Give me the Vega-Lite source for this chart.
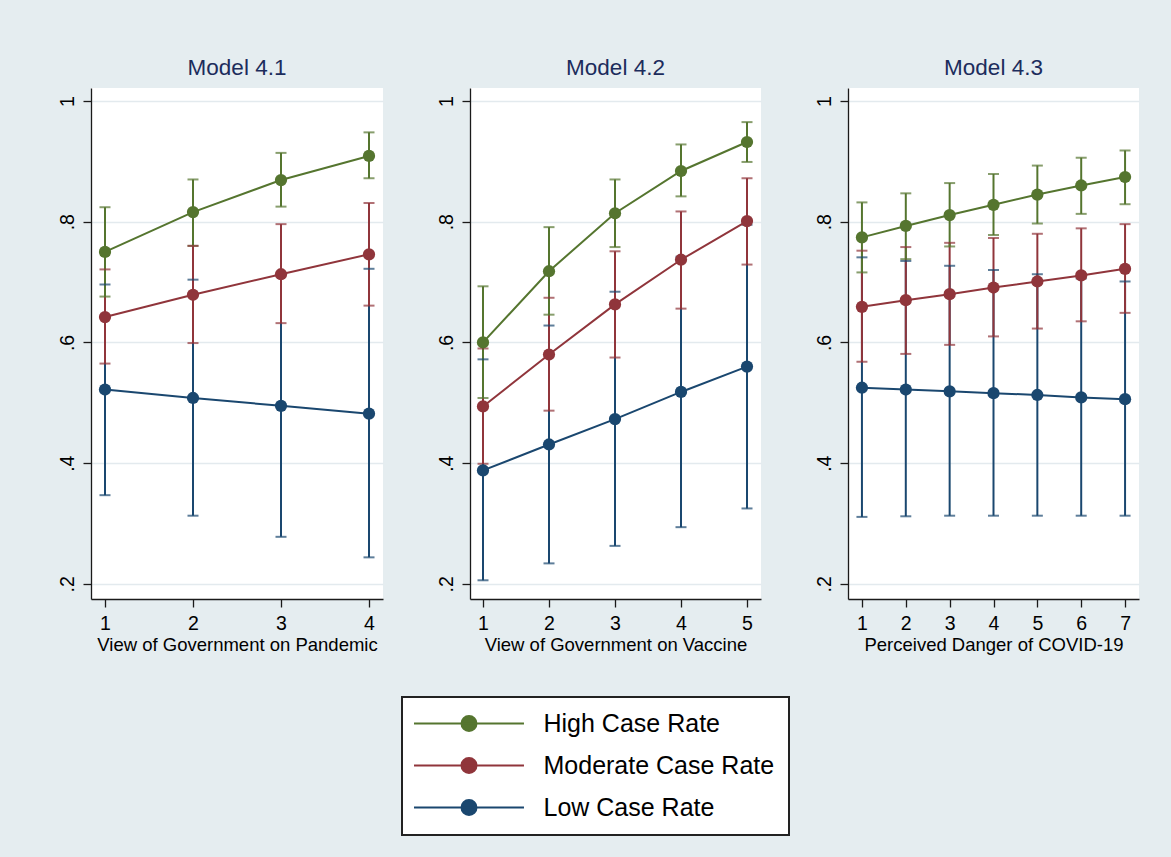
{
  "$schema": "https://vega.github.io/schema/vega-lite/v6.json",
  "autosize": {"type": "none"},
  "padding": {"left": 91, "top": 88, "right": 1080, "bottom": 769},
  "background": "#e5edf0",
  "bounds": "flush",
  "spacing": 87,
  "data": {
    "values": [
      {"panel": "4.1", "x": 1, "series": "Low Case Rate", "y": 0.522, "lo": 0.347, "hi": 0.696},
      {"panel": "4.1", "x": 2, "series": "Low Case Rate", "y": 0.508, "lo": 0.313, "hi": 0.704},
      {"panel": "4.1", "x": 3, "series": "Low Case Rate", "y": 0.495, "lo": 0.278, "hi": 0.712},
      {"panel": "4.1", "x": 4, "series": "Low Case Rate", "y": 0.482, "lo": 0.244, "hi": 0.722},
      {"panel": "4.1", "x": 1, "series": "Moderate Case Rate", "y": 0.642, "lo": 0.565, "hi": 0.721},
      {"panel": "4.1", "x": 2, "series": "Moderate Case Rate", "y": 0.679, "lo": 0.599, "hi": 0.760},
      {"panel": "4.1", "x": 3, "series": "Moderate Case Rate", "y": 0.713, "lo": 0.632, "hi": 0.796},
      {"panel": "4.1", "x": 4, "series": "Moderate Case Rate", "y": 0.746, "lo": 0.661, "hi": 0.831},
      {"panel": "4.1", "x": 1, "series": "High Case Rate", "y": 0.750, "lo": 0.676, "hi": 0.824},
      {"panel": "4.1", "x": 2, "series": "High Case Rate", "y": 0.816, "lo": 0.760, "hi": 0.870},
      {"panel": "4.1", "x": 3, "series": "High Case Rate", "y": 0.869, "lo": 0.825, "hi": 0.914},
      {"panel": "4.1", "x": 4, "series": "High Case Rate", "y": 0.909, "lo": 0.872, "hi": 0.948},

      {"panel": "4.2", "x": 1, "series": "Low Case Rate", "y": 0.388, "lo": 0.206, "hi": 0.572},
      {"panel": "4.2", "x": 2, "series": "Low Case Rate", "y": 0.431, "lo": 0.234, "hi": 0.628},
      {"panel": "4.2", "x": 3, "series": "Low Case Rate", "y": 0.473, "lo": 0.263, "hi": 0.684},
      {"panel": "4.2", "x": 4, "series": "Low Case Rate", "y": 0.518, "lo": 0.294, "hi": 0.742},
      {"panel": "4.2", "x": 5, "series": "Low Case Rate", "y": 0.560, "lo": 0.325, "hi": 0.795},
      {"panel": "4.2", "x": 1, "series": "Moderate Case Rate", "y": 0.494, "lo": 0.399, "hi": 0.590},
      {"panel": "4.2", "x": 2, "series": "Moderate Case Rate", "y": 0.580, "lo": 0.487, "hi": 0.674},
      {"panel": "4.2", "x": 3, "series": "Moderate Case Rate", "y": 0.663, "lo": 0.575, "hi": 0.751},
      {"panel": "4.2", "x": 4, "series": "Moderate Case Rate", "y": 0.737, "lo": 0.656, "hi": 0.817},
      {"panel": "4.2", "x": 5, "series": "Moderate Case Rate", "y": 0.801, "lo": 0.729, "hi": 0.872},
      {"panel": "4.2", "x": 1, "series": "High Case Rate", "y": 0.600, "lo": 0.508, "hi": 0.693},
      {"panel": "4.2", "x": 2, "series": "High Case Rate", "y": 0.718, "lo": 0.646, "hi": 0.791},
      {"panel": "4.2", "x": 3, "series": "High Case Rate", "y": 0.814, "lo": 0.758, "hi": 0.870},
      {"panel": "4.2", "x": 4, "series": "High Case Rate", "y": 0.884, "lo": 0.842, "hi": 0.928},
      {"panel": "4.2", "x": 5, "series": "High Case Rate", "y": 0.932, "lo": 0.899, "hi": 0.965},

      {"panel": "4.3", "x": 1, "series": "Low Case Rate", "y": 0.525, "lo": 0.311, "hi": 0.741},
      {"panel": "4.3", "x": 2, "series": "Low Case Rate", "y": 0.522, "lo": 0.312, "hi": 0.735},
      {"panel": "4.3", "x": 3, "series": "Low Case Rate", "y": 0.519, "lo": 0.313, "hi": 0.727},
      {"panel": "4.3", "x": 4, "series": "Low Case Rate", "y": 0.516, "lo": 0.313, "hi": 0.720},
      {"panel": "4.3", "x": 5, "series": "Low Case Rate", "y": 0.513, "lo": 0.313, "hi": 0.713},
      {"panel": "4.3", "x": 6, "series": "Low Case Rate", "y": 0.509, "lo": 0.313, "hi": 0.706},
      {"panel": "4.3", "x": 7, "series": "Low Case Rate", "y": 0.506, "lo": 0.313, "hi": 0.701},
      {"panel": "4.3", "x": 1, "series": "Moderate Case Rate", "y": 0.659, "lo": 0.568, "hi": 0.752},
      {"panel": "4.3", "x": 2, "series": "Moderate Case Rate", "y": 0.670, "lo": 0.581, "hi": 0.758},
      {"panel": "4.3", "x": 3, "series": "Moderate Case Rate", "y": 0.680, "lo": 0.596, "hi": 0.765},
      {"panel": "4.3", "x": 4, "series": "Moderate Case Rate", "y": 0.691, "lo": 0.610, "hi": 0.773},
      {"panel": "4.3", "x": 5, "series": "Moderate Case Rate", "y": 0.701, "lo": 0.623, "hi": 0.780},
      {"panel": "4.3", "x": 6, "series": "Moderate Case Rate", "y": 0.711, "lo": 0.635, "hi": 0.789},
      {"panel": "4.3", "x": 7, "series": "Moderate Case Rate", "y": 0.722, "lo": 0.649, "hi": 0.796},
      {"panel": "4.3", "x": 1, "series": "High Case Rate", "y": 0.774, "lo": 0.716, "hi": 0.832},
      {"panel": "4.3", "x": 2, "series": "High Case Rate", "y": 0.793, "lo": 0.738, "hi": 0.847},
      {"panel": "4.3", "x": 3, "series": "High Case Rate", "y": 0.811, "lo": 0.759, "hi": 0.864},
      {"panel": "4.3", "x": 4, "series": "High Case Rate", "y": 0.828, "lo": 0.778, "hi": 0.879},
      {"panel": "4.3", "x": 5, "series": "High Case Rate", "y": 0.845, "lo": 0.797, "hi": 0.893},
      {"panel": "4.3", "x": 6, "series": "High Case Rate", "y": 0.860, "lo": 0.813, "hi": 0.906},
      {"panel": "4.3", "x": 7, "series": "High Case Rate", "y": 0.874, "lo": 0.829, "hi": 0.918}
    ]
  },
  "resolve": {
    "scale": {"x": "independent", "y": "independent", "color": "shared"},
    "legend": {"color": "shared"}
  },
  "hconcat": [
    {
      "width": 292, "height": 511,
      "title": {"text": "Model 4.1"},
      "transform": [{"filter": "datum.panel == '4.1'"}],
      "encoding": {
        "x": {"field": "x", "type": "quantitative", "scale": {"domain": [0.841, 4.159], "nice": false, "zero": false},
              "axis": {"values": [1, 2, 3, 4], "format": "d", "grid": false, "title": "View of Government on Pandemic", "labelFlush": false}},
        "color": {"field": "series", "type": "nominal"}
      },
      "layer": [
        {"mark": {"type": "rule", "strokeWidth": 2}, "encoding": {"y": {"field": "lo", "type": "quantitative", "scale": {"domain": [0.175, 1.0215], "nice": false, "zero": false}, "axis": {"values": [0.2, 0.4, 0.6, 0.8, 1], "title": null, "labelAngle": -90, "labelAlign": "center", "labelBaseline": "bottom", "labelPadding": 6, "labelExpr": "datum.value >= 0.99 ? '1' : replace(format(datum.value, '.1f'), '0.', '.')"}}, "y2": {"field": "hi"}}},
        {"mark": {"type": "tick", "orient": "horizontal", "size": 11, "thickness": 2}, "encoding": {"y": {"field": "lo", "type": "quantitative"}}},
        {"mark": {"type": "tick", "orient": "horizontal", "size": 11, "thickness": 2}, "encoding": {"y": {"field": "hi", "type": "quantitative"}}},
        {"mark": {"type": "line", "strokeWidth": 2}, "encoding": {"y": {"field": "y", "type": "quantitative"}}},
        {"mark": {"type": "circle", "size": 150, "opacity": 1}, "encoding": {"y": {"field": "y", "type": "quantitative"}}}
      ]
    },
    {
      "width": 291, "height": 511,
      "title": {"text": "Model 4.2"},
      "transform": [{"filter": "datum.panel == '4.2'"}],
      "encoding": {
        "x": {"field": "x", "type": "quantitative", "scale": {"domain": [0.803, 5.212], "nice": false, "zero": false},
              "axis": {"values": [1, 2, 3, 4, 5], "format": "d", "grid": false, "title": "View of Government on Vaccine", "labelFlush": false}},
        "color": {"field": "series", "type": "nominal"}
      },
      "layer": [
        {"mark": {"type": "rule", "strokeWidth": 2}, "encoding": {"y": {"field": "lo", "type": "quantitative", "scale": {"domain": [0.175, 1.0215], "nice": false, "zero": false}, "axis": {"values": [0.2, 0.4, 0.6, 0.8, 1], "title": null, "labelAngle": -90, "labelAlign": "center", "labelBaseline": "bottom", "labelPadding": 6, "labelExpr": "datum.value >= 0.99 ? '1' : replace(format(datum.value, '.1f'), '0.', '.')"}}, "y2": {"field": "hi"}}},
        {"mark": {"type": "tick", "orient": "horizontal", "size": 11, "thickness": 2}, "encoding": {"y": {"field": "lo", "type": "quantitative"}}},
        {"mark": {"type": "tick", "orient": "horizontal", "size": 11, "thickness": 2}, "encoding": {"y": {"field": "hi", "type": "quantitative"}}},
        {"mark": {"type": "line", "strokeWidth": 2}, "encoding": {"y": {"field": "y", "type": "quantitative"}}},
        {"mark": {"type": "circle", "size": 150, "opacity": 1}, "encoding": {"y": {"field": "y", "type": "quantitative"}}}
      ]
    },
    {
      "width": 291, "height": 511,
      "title": {"text": "Model 4.3"},
      "transform": [{"filter": "datum.panel == '4.3'"}],
      "encoding": {
        "x": {"field": "x", "type": "quantitative", "scale": {"domain": [0.682, 7.318], "nice": false, "zero": false},
              "axis": {"values": [1, 2, 3, 4, 5, 6, 7], "format": "d", "grid": false, "title": "Perceived Danger of COVID-19", "labelFlush": false}},
        "color": {"field": "series", "type": "nominal"}
      },
      "layer": [
        {"mark": {"type": "rule", "strokeWidth": 2}, "encoding": {"y": {"field": "lo", "type": "quantitative", "scale": {"domain": [0.175, 1.0215], "nice": false, "zero": false}, "axis": {"values": [0.2, 0.4, 0.6, 0.8, 1], "title": null, "labelAngle": -90, "labelAlign": "center", "labelBaseline": "bottom", "labelPadding": 6, "labelExpr": "datum.value >= 0.99 ? '1' : replace(format(datum.value, '.1f'), '0.', '.')"}}, "y2": {"field": "hi"}}},
        {"mark": {"type": "tick", "orient": "horizontal", "size": 11, "thickness": 2}, "encoding": {"y": {"field": "lo", "type": "quantitative"}}},
        {"mark": {"type": "tick", "orient": "horizontal", "size": 11, "thickness": 2}, "encoding": {"y": {"field": "hi", "type": "quantitative"}}},
        {"mark": {"type": "line", "strokeWidth": 2}, "encoding": {"y": {"field": "y", "type": "quantitative"}}},
        {"mark": {"type": "circle", "size": 150, "opacity": 1},
         "encoding": {
           "y": {"field": "y", "type": "quantitative"},
           "color": {"field": "series", "type": "nominal",
             "scale": {"domain": ["High Case Rate", "Moderate Case Rate", "Low Case Rate"], "range": ["#55752f", "#90353b", "#1a476f"]},
             "legend": {
               "orient": "none", "legendX": 311, "legendY": 609, "title": null, "direction": "vertical",
               "fillColor": "white", "strokeColor": "#222222", "padding": 14,
               "symbolType": "M-7.33,0L7.33,0M1,0A1,1,0,1,1,-1,0A1,1,0,1,1,1,0Z",
               "symbolSize": 225, "symbolStrokeWidth": 2, "symbolOffset": 40.5, "symbolOpacity": 1,
               "labelOffset": 62, "labelFontSize": 25, "labelColor": "black", "labelLimit": 400, "rowPadding": 16,
               "encode": {
                 "symbols": {"update": {"fill": {"scale": "color", "field": "value"}, "stroke": {"scale": "color", "field": "value"}, "opacity": {"value": 1}, "fillOpacity": {"value": 1}, "strokeOpacity": {"value": 1}}},
                 "legend": {"update": {"strokeWidth": {"value": 2}}}
               }
             }
           }
         }
        }
      ]
    }
  ],
  "config": {
    "font": "Liberation Sans",
    "view": {"fill": "white", "stroke": null},
    "title": {"fontSize": 22.5, "color": "#1c2c5c", "fontWeight": "normal", "anchor": "middle", "frame": "group", "baseline": "alphabetic", "offset": 9},
    "axis": {
      "domainColor": "#1a1a1a", "domainWidth": 1.3, "tickColor": "#1a1a1a", "tickWidth": 1.3, "tickSize": 8,
      "labelFontSize": 19.5, "labelColor": "black", "titleFontSize": 18.5, "titleFontWeight": "normal", "titleColor": "black",
      "gridColor": "#e3eaee", "gridWidth": 1.5
    },
    "axisX": {"labelPadding": 7, "titlePadding": 3},
    "legend": {"labelFont": "Liberation Sans"}
  }
}
